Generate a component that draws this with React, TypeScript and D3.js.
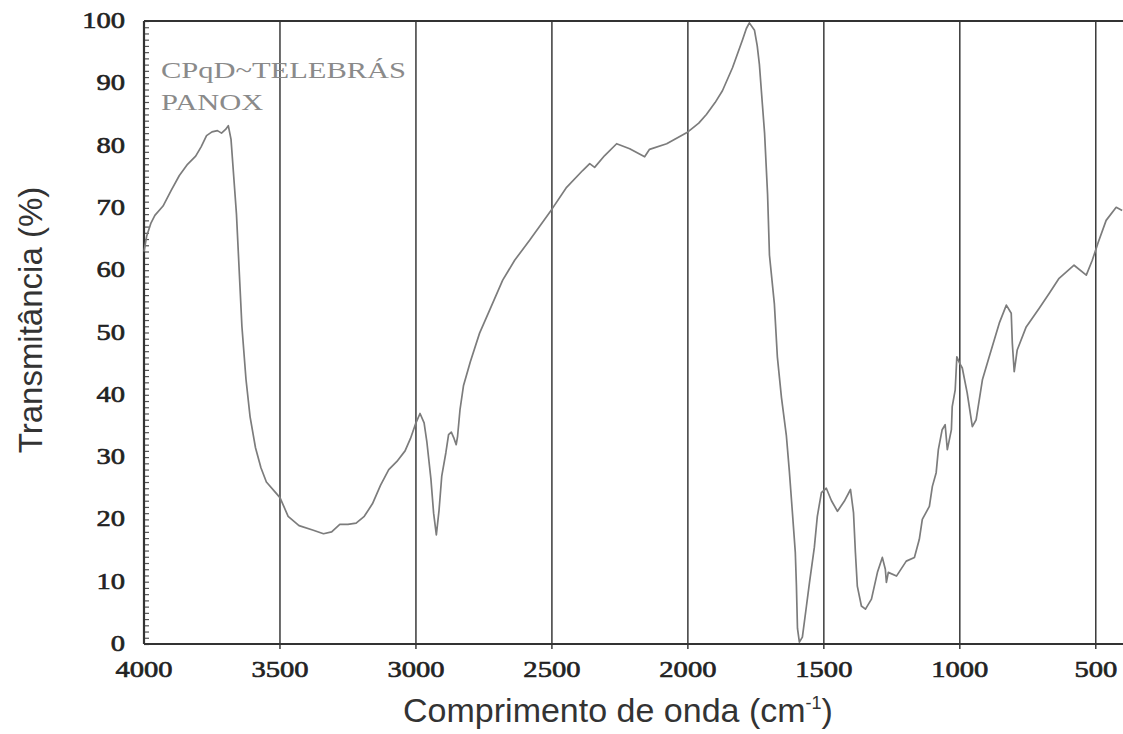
import { useEffect, useRef } from "react";
import * as d3 from "d3";

// FTIR spectrum (wavenumber in cm-1, transmittance in %)
const wavenumber = [
  4000, 3990, 3975, 3960, 3930, 3900, 3870, 3840, 3810, 3790, 3770, 3750, 3730, 3715, 3700, 3690,
  3680, 3670, 3660, 3650, 3640, 3625, 3610, 3590, 3570, 3550, 3520, 3500, 3470, 3430, 3380, 3340,
  3310, 3280, 3250, 3220, 3190, 3160, 3130, 3100, 3070, 3040, 3020, 3000, 2985, 2970, 2960, 2945,
  2935, 2925, 2915, 2905, 2890, 2880, 2870, 2860, 2852, 2847, 2838, 2825, 2800, 2766, 2729, 2681,
  2637, 2582, 2500, 2446, 2387, 2361, 2343, 2306, 2262, 2214, 2159, 2141, 2078, 2000, 1960, 1932,
  1900, 1873, 1836, 1799, 1785, 1774, 1755, 1745, 1737, 1726, 1718, 1707, 1700, 1682, 1671, 1656,
  1638, 1627, 1616, 1605, 1601, 1597, 1590, 1579, 1564, 1553, 1535, 1524, 1509, 1491, 1472, 1450,
  1425, 1402, 1391, 1384, 1377, 1362, 1347, 1325, 1303, 1285, 1274, 1270, 1263, 1233, 1197, 1167,
  1149, 1138, 1112, 1101, 1087, 1079, 1065, 1054, 1046, 1031, 1028, 1017, 1011, 1000, 991, 973,
  954, 940, 917, 892, 855, 829, 811, 807, 800, 789, 756, 708, 671, 635, 580, 535,
  513, 491, 462, 425, 403,
];
const transmittance = [
  63, 65.5, 67.5, 68.8, 70.3, 72.8, 75.2, 77, 78.3, 79.8, 81.6, 82.2, 82.4, 82, 82.6, 83.2,
  81, 75, 69, 60, 51, 42.5, 36.5, 31.5, 28.3, 26, 24.5, 23.5, 20.5, 19, 18.3, 17.7,
  18, 19.2, 19.2, 19.4, 20.5, 22.5, 25.5, 28, 29.3, 31, 33, 35.5, 37, 35.5, 32.5, 26.5,
  21, 17.5, 21.5, 27, 30.7, 33.6, 34, 33, 32, 33.3, 37.6, 41.5, 45.3, 49.9, 53.6, 58.4,
  61.6, 64.8, 69.8, 73.3, 76, 77.1, 76.5, 78.4, 80.3, 79.5, 78.2, 79.4, 80.3, 82.2, 83.6, 85,
  86.9, 88.8, 92.5, 97, 98.8, 99.7, 98.5, 96, 93, 86.6, 82, 72.2, 62.4, 54.6, 46.1, 39.6,
  33.5, 27.8, 21.3, 14.7, 9.5, 2.5, 0.3, 1.1, 6.1, 9.8, 15.5, 20.5, 24.3, 25, 23, 21.3,
  22.9, 24.8, 21.1, 14.7, 9.3, 6.1, 5.6, 7.2, 11.5, 13.9, 12, 9.9, 11.5, 10.9, 13.3, 13.9,
  16.8, 20, 22.1, 25.3, 27.5, 31.2, 34.4, 35.2, 31.2, 34.4, 38.1, 40.8, 46.1, 45, 44.3, 40.3,
  34.9, 36, 42.4, 46.1, 51.5, 54.4, 53.1, 48.3, 43.7, 47.2, 50.9, 53.9, 56.3, 58.7, 60.8, 59.2,
  61.6, 64.5, 68, 70.1, 69.6,
];

const xTickValues = [4000, 3500, 3000, 2500, 2000, 1500, 1000, 500];
const yTickValues = [0, 10, 20, 30, 40, 50, 60, 70, 80, 90, 100];
const yMinorStep = 1;
const annotation = ["CPqD~TELEBRÁS", "PANOX"];
const yTitle = "Transmitância (%)";

const W = 1123;
const H = 734;
const M = { left: 144, right: 1123, top: 21, bottom: 644 };
const STRETCH = 1.27; // the scan is wider than tall

export default function App() {
  const svgRef = useRef<SVGSVGElement>(null);

  useEffect(() => {
    const svg = d3.select(svgRef.current);
    svg.selectAll("*").remove();

    const x = d3.scaleLinear().domain([4000, 400]).range([M.left, M.right]);
    const y = d3.scaleLinear().domain([0, 100]).range([M.bottom, M.top]);

    // vertical grid at the major wavenumbers
    svg
      .append("g")
      .selectAll("line")
      .data(xTickValues.slice(1))
      .join("line")
      .attr("x1", (d) => x(d))
      .attr("x2", (d) => x(d))
      .attr("y1", M.top)
      .attr("y2", M.bottom + 5)
      .attr("stroke", "#1c1c1c")
      .attr("stroke-width", 1.3);

    // dense minor ticks on the inside of the left axis
    const yMinor = svg
      .append("g")
      .attr("transform", `translate(${M.left},0)`)
      .call(
        d3
          .axisRight(y)
          .tickValues(d3.range(0, 100 + yMinorStep, yMinorStep))
          .tickSize(5)
          .tickFormat(() => "")
      );
    yMinor.select(".domain").remove();
    yMinor.selectAll("line").attr("stroke", "#555").attr("stroke-width", 1.2);

    // frame: left, top, bottom
    const frame = svg.append("g").attr("stroke", "#333").attr("stroke-width", 2.2);
    frame.append("line").attr("x1", M.left).attr("x2", M.left).attr("y1", M.top).attr("y2", M.bottom);
    frame.append("line").attr("x1", M.left).attr("x2", M.right).attr("y1", M.top).attr("y2", M.top);
    frame.append("line").attr("x1", M.left).attr("x2", M.right).attr("y1", M.bottom).attr("y2", M.bottom);

    // spectrum
    const pts = d3.zip(wavenumber, transmittance) as [number, number][];
    svg
      .append("path")
      .datum(pts)
      .attr("fill", "none")
      .attr("stroke", "#7c7c7c")
      .attr("stroke-width", 1.7)
      .attr("stroke-linejoin", "round")
      .attr(
        "d",
        d3
          .line<[number, number]>()
          .x((d) => x(d[0]))
          .y((d) => y(d[1]))
      );

    const serif = "'Liberation Serif', 'Times New Roman', serif";

    // x tick labels
    svg
      .append("g")
      .selectAll("text")
      .data(xTickValues)
      .join("text")
      .attr("transform", (d) => `translate(${x(d)},${M.bottom + 33}) scale(${STRETCH},1)`)
      .attr("text-anchor", "middle")
      .attr("font-family", serif)
      .attr("font-size", 22.5)
      .attr("fill", "#222")
      .attr("stroke", "#222")
      .attr("stroke-width", 0.6)
      .text((d) => d);

    // y tick labels
    svg
      .append("g")
      .selectAll("text")
      .data(yTickValues)
      .join("text")
      .attr("transform", (d) => `translate(${M.left - 19},${y(d) + 7}) scale(${STRETCH},1)`)
      .attr("text-anchor", "end")
      .attr("font-family", serif)
      .attr("font-size", 22.5)
      .attr("fill", "#222")
      .attr("stroke", "#222")
      .attr("stroke-width", 0.6)
      .text((d) => d);

    // annotation in the corner
    svg
      .append("g")
      .selectAll("text")
      .data(annotation)
      .join("text")
      .attr("transform", (_, i) => `translate(161,${78 + i * 32}) scale(${STRETCH},1)`)
      .attr("font-family", serif)
      .attr("font-size", 24)
      .attr("fill", "#8a8a8a")
      .text((d) => d);

    const sans = "'Liberation Sans', Arial, sans-serif";

    // y title
    svg
      .append("text")
      .attr("transform", `translate(30,320) rotate(-90)`)
      .attr("text-anchor", "middle")
      .attr("dominant-baseline", "central")
      .attr("font-family", sans)
      .attr("font-size", 33)
      .attr("fill", "#333")
      .text(yTitle);

    // x title with superscript
    const xt = svg
      .append("text")
      .attr("x", 618)
      .attr("y", 722)
      .attr("text-anchor", "middle")
      .attr("font-family", sans)
      .attr("font-size", 34)
      .attr("fill", "#333");
    xt.append("tspan").text("Comprimento de onda (cm");
    xt.append("tspan").attr("dy", -13).attr("font-size", 18).text("-1");
    xt.append("tspan").attr("dy", 13).text(")");
  }, []);

  return (
    <svg
      ref={svgRef}
      width={W}
      height={H}
      viewBox={`0 0 ${W} ${H}`}
      style={{ position: "absolute", left: 0, top: 0, background: "#fff" }}
      role="img"
      aria-label="FTIR transmittance spectrum, CPqD-TELEBRÁS PANOX"
    />
  );
}
